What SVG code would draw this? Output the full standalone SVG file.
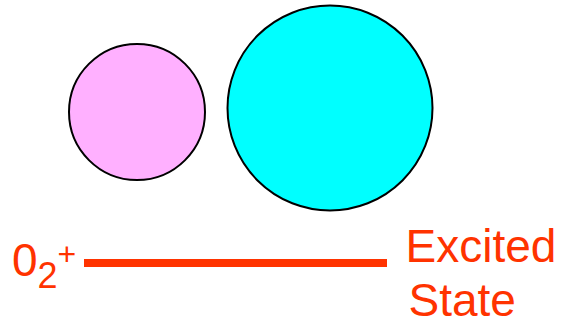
<svg xmlns="http://www.w3.org/2000/svg" width="568" height="326" viewBox="0 0 568 326">
<style>
.atom{stroke:#000;stroke-width:2}
.lbl{font-family:"Liberation Sans",Arial,sans-serif;fill:#FF3300}
</style>
<rect width="568" height="326" fill="#fff"/>
<g id="pink-atom"><circle class="atom" cx="137" cy="112" r="68" fill="#FFB0FF"/></g>
<g id="cyan-atom"><circle class="atom" cx="330" cy="108" r="102.5" fill="#00FFFF"/></g>
<g id="connectors">
<line x1="84" y1="263" x2="387" y2="263" stroke="#FF3300" stroke-width="8"/>
</g>
<g id="o2-label">
<text class="lbl" x="12" y="276" font-size="46">0<tspan font-size="36" dy="12">2</tspan><tspan font-size="32" x="57.5" y="264.5">+</tspan></text>
</g>
<g id="state-label">
<text class="lbl" x="405.5" y="261.5" font-size="46">Excited</text>
<text class="lbl" x="408.5" y="316" font-size="46">State</text>
</g>
</svg>
